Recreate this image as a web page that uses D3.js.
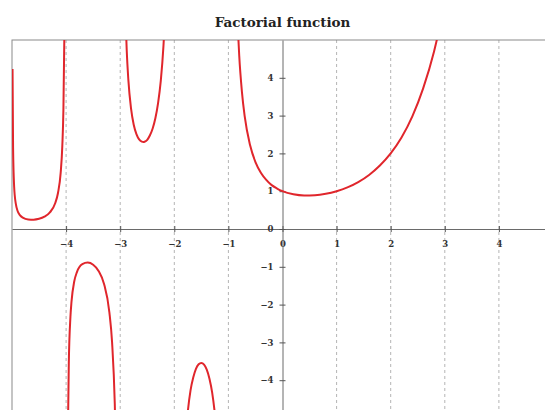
<!DOCTYPE html>
<html>
<head>
<meta charset="utf-8">
<script src="https://cdn.jsdelivr.net/npm/d3@7"></script>
<style>
    body{margin:0;background:#fff;}
    #chart{width:545px;height:410px;}
</style>
</head>
<body>
<div id="chart"></div>
<script>
// tick values
var xTicks = [-4,-3,-2,-1,0,1,2,3,4];
var yTicks = [-4,-3,-2,-1,0,1,2,3,4];
var gridX = [-4,-3,-2,-1,1,2,3,4];

// curve pieces between the poles [x, y]
var branch1 = [[-4.99,4.23],[-4.98,2.15],[-4.96,1.11],[-4.95,0.90],[-4.93,0.67],[-4.9,0.49],[-4.85,0.36],
    [-4.8,0.30],[-4.7,0.252],[-4.6,0.247],[-4.5,0.270],[-4.4,0.326],[-4.3,0.439],[-4.2,0.689],
    [-4.15,0.952],[-4.1,1.49],[-4.07,2.20],[-4.05,3.14],[-4.03,5.36]];
var branch2 = [[-3.97,-5.78],[-3.95,-3.56],[-3.92,-2.33],[-3.9,-1.92],[-3.85,-1.39],[-3.8,-1.14],
    [-3.7,-0.931],[-3.6,-0.889],[-3.5,-0.945],[-3.4,-1.108],[-3.3,-1.447],[-3.2,-2.205],
    [-3.15,-3.0],[-3.1,-4.63],[-3.08,-5.86]];
var branch3 = [[-2.9,5.56],[-2.88,4.75],[-2.85,3.96],[-2.8,3.19],[-2.75,2.76],[-2.7,2.51],[-2.65,2.37],
    [-2.6,2.311],[-2.57,2.302],[-2.55,2.309],[-2.5,2.36],[-2.45,2.48],[-2.4,2.66],[-2.35,2.93],
    [-2.3,3.33],[-2.25,3.92],[-2.2,4.85],[-2.18,5.38]];
var branch4 = [[-1.8,-5.74],[-1.75,-4.83],[-1.7,-4.27],[-1.65,-3.93],[-1.6,-3.70],[-1.55,-3.58],
    [-1.5,-3.545],[-1.45,-3.59],[-1.4,-3.72],[-1.35,-3.96],[-1.3,-4.33],[-1.25,-4.90],[-1.2,-5.82]];
var branch5 = [[-0.82,5.16],[-0.8,4.59],[-0.75,3.63],[-0.7,2.99],[-0.6,2.22],[-0.5,1.77],[-0.4,1.49],
    [-0.3,1.30],[-0.2,1.16],[-0.1,1.07],[0,1],[0.2,0.918],[0.4,0.887],[0.6,0.894],[0.8,0.931],
    [1,1],[1.2,1.10],[1.4,1.24],[1.6,1.43],[1.8,1.68],[2,2],[2.2,2.42],[2.4,2.98],[2.6,3.72],
    [2.8,4.69],[2.9,5.30]];

function renderFactorial(container){
    const left = 12, top = 40, right = 553, bottom = 418;
    const fontFamily = "'DejaVu Serif', 'Liberation Serif', serif";

    const xScale = d3.scaleLinear().domain([-5,5]).range([left,right]);
    const yScale = d3.scaleLinear().domain([-5,5]).range([bottom,top]);

    var svg = d3.select(container)
        .append('svg')
        .attr('width',545)
        .attr('height',410);

    svg.append("defs").append("clipPath").attr("id","plot-clip")
        .append("rect")
        .attr("x",left).attr("y",top)
        .attr("width",right-left).attr("height",bottom-top);

    // title
    svg.append("text")
        .attr("x",(left+right)/2)
        .attr("y",27)
        .attr("text-anchor","middle")
        .style("font-family",fontFamily)
        .style("font-weight","bold")
        .style("font-size","13.5px")
        .style("fill","#222")
        .text("Factorial function");

    // dashed grid
    svg.append("g").attr("class","grid")
        .selectAll("line")
        .data(gridX)
        .enter()
        .append("line")
        .attr("x1",d => xScale(d))
        .attr("x2",d => xScale(d))
        .attr("y1",top)
        .attr("y2",bottom)
        .style("stroke","#b4b4b4")
        .style("stroke-dasharray","3,3");

    // frame
    svg.append("rect")
        .attr("x",left).attr("y",top)
        .attr("width",right-left).attr("height",bottom-top)
        .style("fill","none")
        .style("stroke","#8a8a8a");

    // axes through the origin
    var xAxis = svg.append("g")
        .attr("transform",`translate(0,${yScale(0)})`)
        .call(d3.axisBottom(xScale).tickValues(xTicks).tickSize(3).tickSizeOuter(0).tickPadding(9));
    xAxis.selectAll(".tick line").attr("y1",-3);

    var yAxis = svg.append("g")
        .attr("transform",`translate(${xScale(0)},0)`)
        .call(d3.axisLeft(yScale).tickValues(yTicks).tickSize(3).tickSizeOuter(0).tickPadding(6));
    yAxis.selectAll(".tick line").attr("x1",3);

    svg.selectAll(".domain").style("stroke","#6a6a6a");
    svg.selectAll(".tick line").style("stroke","#555");
    svg.selectAll(".tick text")
        .style("font-family",fontFamily)
        .style("font-weight","bold")
        .style("font-size","8.5px")
        .style("fill","#333");

    // curve
    var line = d3.line()
        .x(d => xScale(d[0]))
        .y(d => yScale(d[1]))
        .curve(d3.curveMonotoneX);

    svg.append("g")
        .attr("clip-path","url(#plot-clip)")
        .selectAll(".branch")
        .data([branch1,branch2,branch3,branch4,branch5])
        .enter()
        .append("path")
        .attr("class","branch")
        .attr("d",line)
        .style("fill","none")
        .style("stroke","#e0262c")
        .style("stroke-width",2);
}

renderFactorial(document.getElementById("chart"));
</script>
</body>
</html>
